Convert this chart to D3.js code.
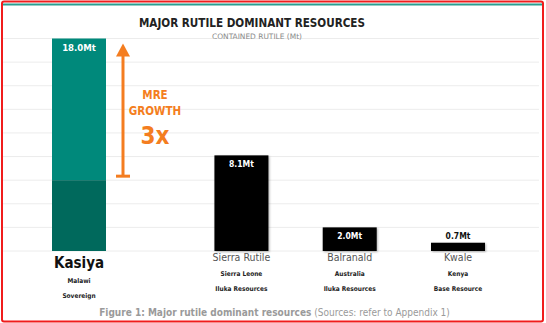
<!DOCTYPE html>
<html><head><meta charset="utf-8">
<script src="https://cdn.jsdelivr.net/npm/d3@7"></script>
<style>
html,body{margin:0;padding:0;background:#fff;}
svg{display:block;font-family:"DejaVu Sans Condensed","DejaVu Sans",sans-serif;}
</style></head>
<body><svg id="c" width="546" height="323"></svg>
<script>
const categories = ["Kasiya", "Sierra Rutile", "Balranald", "Kwale"];
const values = [18.0, 8.1, 2.0, 0.7];
const valueLabels = ["18.0Mt", "8.1Mt", "2.0Mt", "0.7Mt"];
const countries = ["Malawi", "Sierra Leone", "Australia", "Kenya"];
const owners = ["Sovereign", "Iluka Resources", "Iluka Resources", "Base Resource"];
const kasiyaPrior = 6.0;           // previous MRE (bottom, darker part)
const gridTicks = d3.range(0, 20, 2);
const title = "MAJOR RUTILE DOMINANT RESOURCES";
const subtitle = "CONTAINED RUTILE (Mt)";
const arrowLines = ["MRE", "GROWTH"];
const arrowBig = "3x";
const captionBold = "Figure 1: Major rutile dominant resources";
const captionRest = " (Sources: refer to Appendix 1)";

const svg = d3.select("#c");
const orange = "#f47d20";

// frame
svg.append("rect").attr("x",2).attr("y",1.5).attr("width",541).attr("height",320)
  .attr("rx",2).attr("fill","none").attr("stroke","#f01c1c").attr("stroke-width",2);
svg.append("line").attr("x1",3).attr("x2",542).attr("y1",4.5).attr("y2",4.5)
  .attr("stroke","#2a9d8f").attr("stroke-width",2);

const y = d3.scaleLinear().domain([0, 18]).range([251, 38.5]);
// slot index: an extra half slot after the first bar holds the growth arrow
const slot = i => i === 0 ? 0 : i + 0.5;
const x = d3.scaleLinear().domain([0, 3.5]).range([79, 458]);
const bw = 54;

// gridlines
svg.append("g").selectAll("line").data(gridTicks).join("line")
  .attr("x1",3).attr("x2",539).attr("y1",d=>y(d)).attr("y2",d=>y(d))
  .attr("stroke","#ececec").attr("stroke-width",1);

// title
svg.append("text").attr("x",252).attr("y",27).attr("text-anchor","middle")
  .attr("font-size",13).attr("font-weight","bold").attr("fill","#222")
  .attr("textLength",226).attr("lengthAdjust","spacingAndGlyphs").text(title);
svg.append("text").attr("x",257).attr("y",38.5).attr("text-anchor","middle")
  .attr("font-size",7.5).attr("fill","#8a8a8a")
  .attr("textLength",90).attr("lengthAdjust","spacingAndGlyphs").text(subtitle);

// shadow
const defs = svg.append("defs");
const f = defs.append("filter").attr("id","sh").attr("x","-20%").attr("y","-20%").attr("width","140%").attr("height","140%");
f.append("feDropShadow").attr("dx",1).attr("dy",1).attr("stdDeviation",1).attr("flood-color","#000").attr("flood-opacity",0.3);

const bars = svg.append("g");
categories.forEach((c,i)=>{
  const cx = x(slot(i));
  if(i===0){
    bars.append("rect").attr("x",cx-bw/2).attr("y",y(values[i])).attr("width",bw)
      .attr("height",y(kasiyaPrior)-y(values[i])).attr("fill","#00897b");
    bars.append("rect").attr("x",cx-bw/2).attr("y",y(kasiyaPrior)).attr("width",bw)
      .attr("height",y(0)-y(kasiyaPrior)).attr("fill","#00695c");
  } else {
    bars.append("rect").attr("x",cx-bw/2).attr("y",y(values[i])).attr("width",bw)
      .attr("height",y(0)-y(values[i])).attr("fill","#000").attr("filter","url(#sh)");
  }
  const small = (y(0)-y(values[i])) < 14;
  svg.append("text").attr("x",cx).attr("text-anchor","middle")
    .attr("y", small ? y(values[i]) - 4 : y(values[i]) + 12)
    .attr("font-size", i===0 ? 9.5 : 8.5).attr("font-weight","bold")
    .attr("fill", small ? "#111" : "#fff").text(valueLabels[i]);
  if(i===0){
    svg.append("text").attr("x",cx).attr("y",268).attr("text-anchor","middle")
      .attr("font-size",15).attr("font-weight","bold").attr("fill","#111").text(c);
    svg.append("text").attr("x",cx).attr("y",283).attr("text-anchor","middle")
      .attr("font-size",6.5).attr("font-weight","bold").attr("fill","#222").text(countries[i]);
    svg.append("text").attr("x",cx).attr("y",298).attr("text-anchor","middle")
      .attr("font-size",6.5).attr("font-weight","bold").attr("fill","#222").text(owners[i]);
  } else {
    svg.append("text").attr("x",cx).attr("y",261).attr("text-anchor","middle")
      .attr("font-size",10.5).attr("fill","#555").text(c);
    svg.append("text").attr("x",cx).attr("y",275.5).attr("text-anchor","middle")
      .attr("font-size",6.5).attr("font-weight","bold").attr("fill","#222").text(countries[i]);
    svg.append("text").attr("x",cx).attr("y",290.5).attr("text-anchor","middle")
      .attr("font-size",6.5).attr("font-weight","bold").attr("fill","#222").text(owners[i]);
  }
});

// growth arrow
const ax = x(0) + 44;
const yTop = y(values[0]) + 5, yBot = y(kasiyaPrior) - 4;
svg.append("line").attr("x1",ax).attr("x2",ax).attr("y1",yTop+10).attr("y2",yBot)
  .attr("stroke",orange).attr("stroke-width",3);
svg.append("path").attr("d",`M${ax},${yTop} L${ax-7},${yTop+13} L${ax+7},${yTop+13} Z`).attr("fill",orange);
svg.append("line").attr("x1",ax-7).attr("x2",ax+7).attr("y1",yBot).attr("y2",yBot)
  .attr("stroke",orange).attr("stroke-width",3);
const tx = ax + 32;
arrowLines.forEach((t,k)=>{
  svg.append("text").attr("x",tx).attr("y",99 + k*15.5).attr("text-anchor","middle")
    .attr("font-size",11.5).attr("font-weight","bold").attr("fill",orange).text(t);
});
svg.append("text").attr("x",tx).attr("y",144).attr("text-anchor","middle")
  .attr("font-size",24).attr("font-weight","bold").attr("fill",orange).text(arrowBig);

// caption
const cap = svg.append("text").attr("x",274.5).attr("y",315.5).attr("text-anchor","middle")
  .attr("font-size",10).attr("fill","#9a9a9a");
cap.append("tspan").attr("font-weight","bold").text(captionBold);
cap.append("tspan").text(captionRest);
</script></body></html>
